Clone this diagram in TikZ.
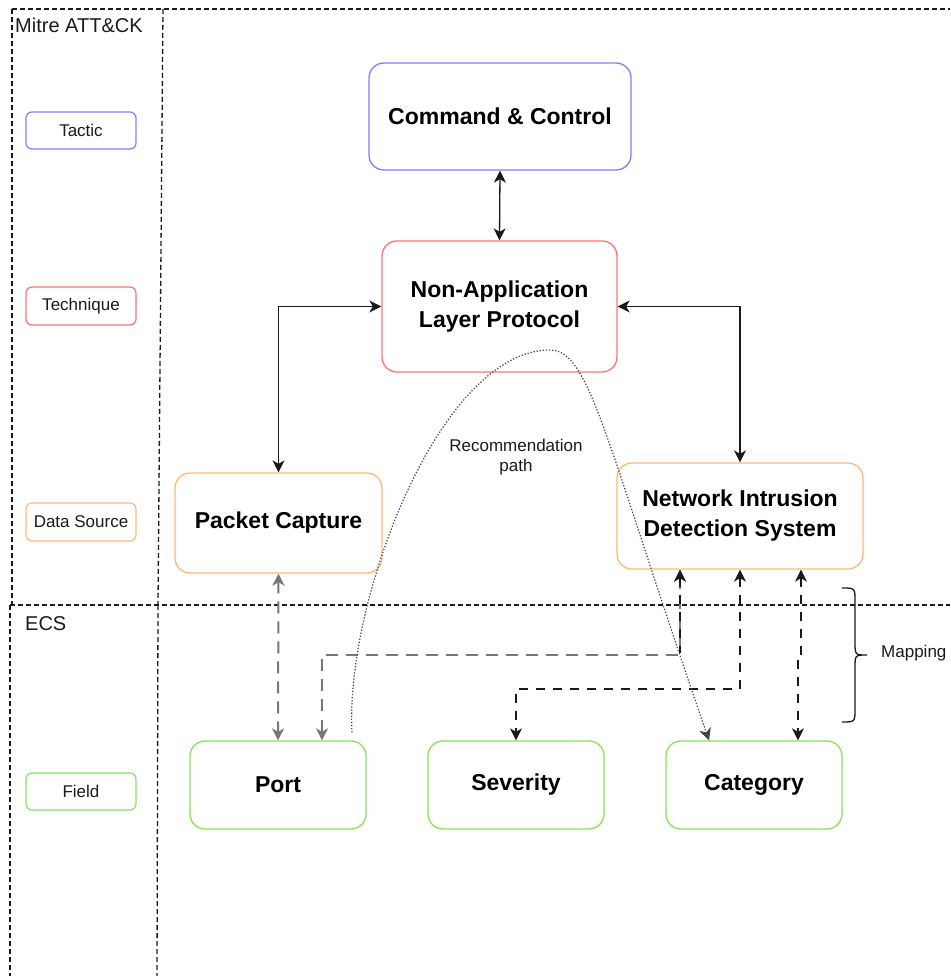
\documentclass[tikz,border=0pt]{standalone}
\usepackage{fontspec}
\setmainfont{Liberation Sans}
\usetikzlibrary{arrows.meta,calc}

\definecolor{tacticblue}{HTML}{8080FF}
\definecolor{techred}{HTML}{FF7373}
\definecolor{srcorange}{HTML}{FFB877}
\definecolor{fieldgreen}{HTML}{8BDF5C}
\definecolor{inkdark}{HTML}{1A1A1A}
\definecolor{mapgrey}{HTML}{777777}
\definecolor{pathgrey}{HTML}{444444}

\tikzset{
  >={Stealth[length=12pt,width=12pt,inset=3.5pt]},
  box/.style={draw, rounded corners=15pt, line width=1.3pt, align=center,
    inner sep=0pt, font=\fontsize{23}{30}\selectfont\bfseries, text=black},
  legendbox/.style={draw, rounded corners=6pt, line width=1.2pt,
    minimum width=110pt, inner sep=0pt, font=\fontsize{17}{20}\selectfont, text=inkdark},
  frame/.style={line width=1.3pt, dash pattern=on 5pt off 3pt, inkdark},
  link/.style={line width=1.3pt, <->, inkdark},
  maplink/.style={line width=1.3pt, <->, inkdark, dash pattern=on 9pt off 8pt},
  greylink/.style={line width=2pt, <->, mapgrey, dash pattern=on 12pt off 8pt},
  recpath/.style={line width=1.2pt, ->, pathgrey, dash pattern=on 1.3pt off 1.8pt},
  note/.style={inner sep=0pt, align=center, font=\fontsize{17}{20}\selectfont, text=inkdark},
  lanetitle/.style={inner sep=0pt, anchor=west, font=\fontsize{20}{24}\selectfont, text=inkdark}
}

\begin{document}
\begin{tikzpicture}[x=1pt,y=-1pt]
\useasboundingbox (0,0) rectangle (950,976);

% lane frame
\draw[frame] (12,9) -- (950,9);
\draw[frame] (12,9) -- (12,605);
\draw[frame] (10,605) -- (10,976);
\draw[frame] (163,9) -- (158,605);
\draw[frame] (158,605) -- (157,976);
\draw[frame] (10,605) -- (950,605);

\node[lanetitle] (mitre) at (15,25) {Mitre ATT\&CK};
\node[lanetitle] (ecs) at (25,624) {ECS};

% legend
\node[legendbox, draw=tacticblue, minimum height=37pt] (lgTactic) at (81,130.5) {Tactic};
\node[legendbox, draw=techred, minimum height=38pt] (lgTech) at (81,306) {Technique};
\node[legendbox, draw=srcorange, minimum height=38pt] (lgSource) at (81,522) {Data Source};
\node[legendbox, draw=fieldgreen, minimum height=37pt] (lgField) at (81,791.5) {Field};

% main nodes
\node[box, draw=tacticblue, minimum width=262pt, minimum height=107pt] (cc) at (500,116.5) {Command \& Control};
\node[box, draw=techred, minimum width=235pt, minimum height=131pt] (nalp) at (499.5,306.5) {Non-Application\\Layer Protocol};
\node[box, draw=srcorange, minimum width=207pt, minimum height=100pt] (pc) at (278.5,523) {Packet Capture};
\node[box, draw=srcorange, minimum width=246pt, minimum height=106pt] (nids) at (740,516) {Network Intrusion\\Detection System};
\node[box, draw=fieldgreen, minimum width=176pt, minimum height=88pt] (port) at (278,785) {Port};
\node[box, draw=fieldgreen, minimum width=176pt, minimum height=88pt] (sev) at (516,785) {Severity};
\node[box, draw=fieldgreen, minimum width=176pt, minimum height=88pt] (cat) at (754,785) {Category};

% hierarchy links
\draw[link] (cc.south) -- (nalp.north);
\draw[link] (nalp.west) -| (pc.north);
\draw[link] (nalp.east) -| (nids.north);

% mapping links
\coordinate (rowA) at (0,655);
\coordinate (rowB) at (0,689);
\coordinate (n1) at ([xshift=-60pt]nids.south);
\coordinate (n3) at ([xshift=61pt]nids.south);
\coordinate (p2) at ([xshift=44pt]port.north);
\coordinate (c1) at ([xshift=44pt]cat.north);

\draw[greylink] (pc.south) -- (port.north);
\draw[greylink] (n1) -- (n1 |- rowA) -| (p2);
\draw[maplink, <-] (n1) -- ($(n1 |- rowA)+(0,-2)$);
\draw[maplink] (nids.south) -- (nids.south |- rowB) -| (sev.north);
\draw[maplink] (n3) -- (n3 |- rowA) -| (c1);

% recommendation path
\coordinate (r0) at ([xshift=74pt,yshift=8pt]port.north);
\coordinate (r1) at ([xshift=-45pt]cat.north);
\draw[recpath] (r0) .. controls (345,600) and (440,350) .. (550,350)
  .. controls (590,350) and (605,440) .. (r1);
\node[note] (reclabel) at (516,457) {Recommendation\\path};

% mapping brace
\draw[line width=1.3pt, inkdark] (842,588) .. controls (855,588) .. (855,601) -- (855,642)
  .. controls (855,655) .. (867,655) .. controls (855,655) .. (855,668) -- (855,709)
  .. controls (855,722) .. (842,722);
\node[note, anchor=west] (maplabel) at (881,653) {Mapping};
\end{tikzpicture}
\end{document}
